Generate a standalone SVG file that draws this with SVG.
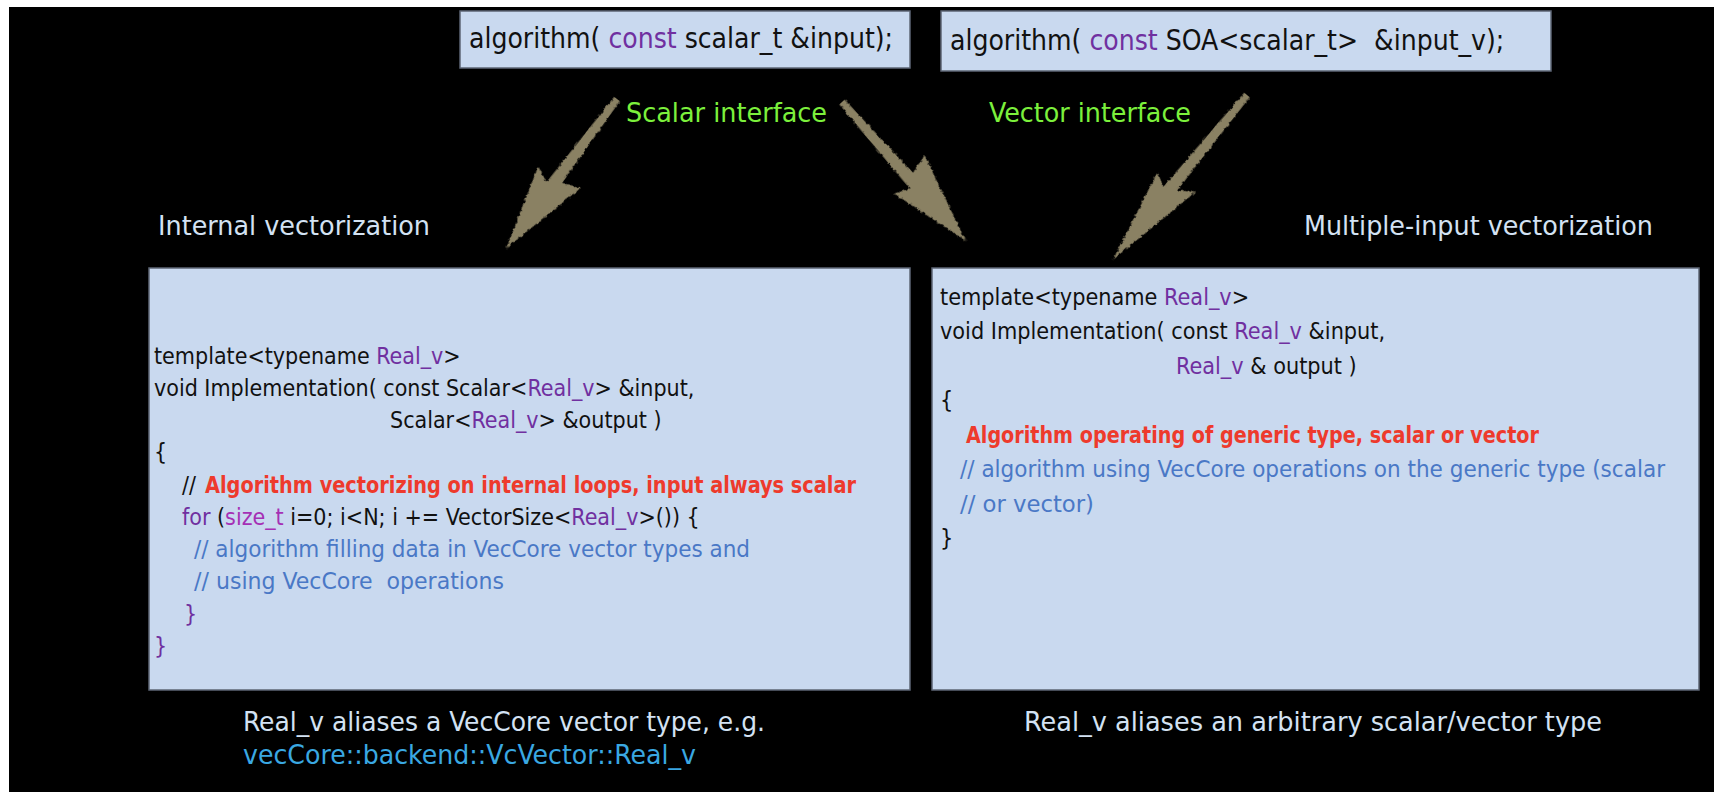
<svg xmlns="http://www.w3.org/2000/svg" width="1714" height="792" viewBox="0 0 1714 792">
<style>
.code{font-family:"DejaVu Sans Condensed","Liberation Sans Narrow",sans-serif;fill:#111;white-space:pre;}
.lbl{font-family:"DejaVu Sans Condensed","Liberation Sans Narrow",sans-serif;}
.p{fill:#7030a0;}
.m{fill:#a530b5;}
.r{fill:#ee3a2c;font-weight:bold;}
.b{fill:#4a78c6;}
.box{fill:#c9d9ef;stroke:#5d6675;stroke-width:1.5;}
.arrow{fill:#8a8164;filter:url(#rough);}
</style>
<defs>
<filter id="rough" x="-20%" y="-20%" width="140%" height="140%">
<feTurbulence type="fractalNoise" baseFrequency="0.35" numOctaves="2" seed="3" result="n"/>
<feDisplacementMap in="SourceGraphic" in2="n" scale="4" xChannelSelector="R" yChannelSelector="G"/>
</filter>
</defs>
<rect width="1714" height="792" fill="#fff"/>
<rect x="9" y="7" width="1705" height="785" fill="#000"/>

<g id="top-scalar">
<rect class="box" x="460" y="11" width="450" height="57"/>
<text class="code" x="469" y="48" font-size="28">algorithm( <tspan class="p">const</tspan> scalar_t &amp;input);</text>
</g>
<g id="top-vector">
<rect class="box" x="941" y="11" width="610" height="60"/>
<text class="code" x="950" y="50" font-size="28">algorithm( <tspan class="p">const</tspan> SOA&lt;scalar_t&gt;  &amp;input_v);</text>
</g>

<g id="labels">
<text class="lbl" x="626" y="122" font-size="26" fill="#7cf03c" textLength="201" lengthAdjust="spacingAndGlyphs">Scalar interface</text>
<text class="lbl" x="989" y="122" font-size="26" fill="#7cf03c" textLength="202" lengthAdjust="spacingAndGlyphs">Vector interface</text>
<text class="lbl" x="158" y="235" font-size="27" fill="#d3e2f3" textLength="272" lengthAdjust="spacingAndGlyphs">Internal vectorization</text>
<text class="lbl" x="1304" y="235" font-size="27" fill="#d3e2f3" textLength="349" lengthAdjust="spacingAndGlyphs">Multiple-input vectorization</text>
</g>

<g id="connectors">
<path class="arrow" transform="translate(617,99) rotate(126.6)" d="M0,-3.5 L100,-6 L93,-24 L186,0 L101,23 L109,7 L0,3.5 Z"/>
<path class="arrow" transform="translate(842,102) rotate(48.3)" d="M0,-3.5 L100,-6 L95,-26 L186,0 L103,22 L110,7 L0,3.5 Z"/>
<path class="arrow" transform="translate(1247,95) rotate(129.1)" d="M0,-3.5 L118,-6 L108,-21 L212,0 L116,21 L124,7 L0,3.5 Z"/>
</g>

<g id="internal-box">
<rect class="box" x="149" y="268" width="761" height="422"/>
<text class="code" font-size="23">
<tspan x="154" y="364">template&lt;typename <tspan class="p">Real_v</tspan>&gt;</tspan>
<tspan x="154" y="396">void Implementation( const Scalar&lt;<tspan class="p">Real_v</tspan>&gt; &amp;input,</tspan>
<tspan x="390" y="428">Scalar&lt;<tspan class="p">Real_v</tspan>&gt; &amp;output )</tspan>
<tspan x="154" y="460">{</tspan>
<tspan x="182" y="493">//</tspan>
<tspan x="182" y="525"><tspan class="p">for</tspan> (<tspan class="m">size_t</tspan> i=0; i&lt;N; i += VectorSize&lt;<tspan class="p">Real_v</tspan>&gt;()) {</tspan>
<tspan x="184" y="622" class="p">}</tspan>
<tspan x="154" y="654" class="p">}</tspan>
</text>
<text class="code r" x="205" y="493" font-size="23" textLength="651" lengthAdjust="spacingAndGlyphs">Algorithm vectorizing on internal loops, input always scalar</text>
<text class="code b" x="194" y="557" font-size="23" textLength="556" lengthAdjust="spacingAndGlyphs">// algorithm filling data in VecCore vector types and</text>
<text class="code b" x="194" y="589" font-size="23" textLength="310" lengthAdjust="spacingAndGlyphs">// using VecCore  operations</text>
</g>

<g id="multiple-box">
<rect class="box" x="932" y="268" width="767" height="422"/>
<text class="code" font-size="23.2">
<tspan x="940" y="305">template&lt;typename <tspan class="p">Real_v</tspan>&gt;</tspan>
<tspan x="940" y="339">void Implementation( const <tspan class="p">Real_v</tspan> &amp;input,</tspan>
<tspan x="1176" y="374"><tspan class="p">Real_v</tspan> &amp; output )</tspan>
<tspan x="940" y="408">{</tspan>
<tspan x="940" y="546">}</tspan>
</text>
<text class="code r" x="966" y="443" font-size="23.2" textLength="573" lengthAdjust="spacingAndGlyphs">Algorithm operating of generic type, scalar or vector</text>
<text class="code b" x="960" y="477" font-size="23.2" textLength="705" lengthAdjust="spacingAndGlyphs">// algorithm using VecCore operations on the generic type (scalar</text>
<text class="code b" x="960" y="512" font-size="23.2" textLength="134" lengthAdjust="spacingAndGlyphs">// or vector)</text>
</g>

<g id="notes">
<text class="lbl" x="243" y="731" font-size="27" fill="#d3e2f3" textLength="522" lengthAdjust="spacingAndGlyphs">Real_v aliases a VecCore vector type, e.g.</text>
<text class="lbl" x="243" y="764" font-size="27" fill="#3aa8e2" textLength="453" lengthAdjust="spacingAndGlyphs">vecCore::backend::VcVector::Real_v</text>
<text class="lbl" x="1024" y="731" font-size="27" fill="#d3e2f3" textLength="578" lengthAdjust="spacingAndGlyphs">Real_v aliases an arbitrary scalar/vector type</text>
</g>
</svg>
